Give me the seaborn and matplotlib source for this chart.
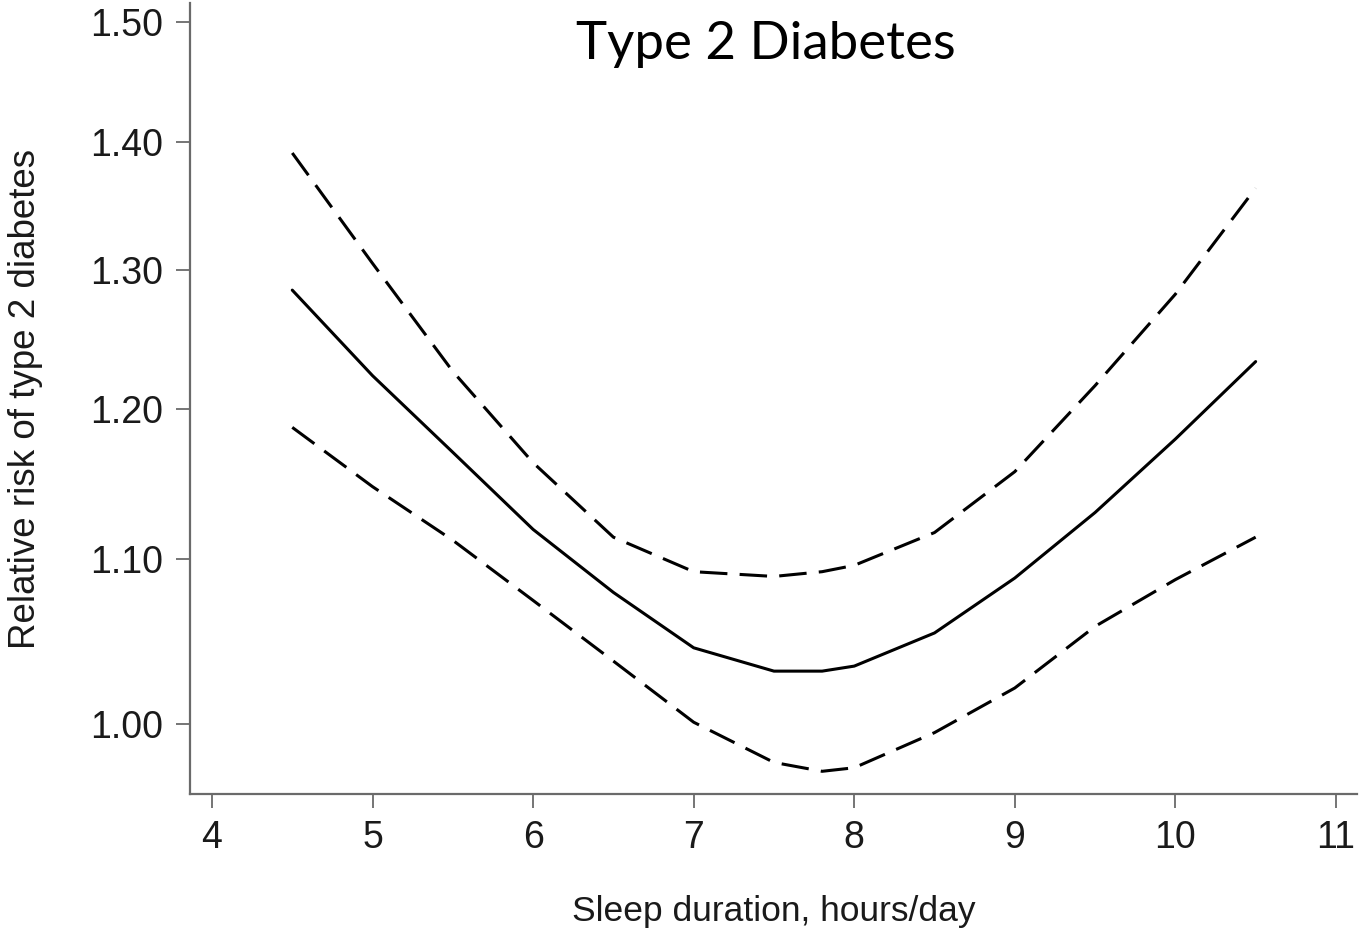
# plot.py
# Sleep duration vs relative risk of type 2 diabetes (dose-response curve with CI).

import numpy as np
import pandas as pd
import matplotlib
matplotlib.use("Agg")
import matplotlib.pyplot as plt
from matplotlib.ticker import FixedLocator, NullLocator
import seaborn as sns


# ── Data ───────────────────────────────────────────────────────────────────────

hours = [4.5, 5.0, 5.5, 6.0, 6.5, 7.0, 7.5, 7.8, 8.0, 8.5, 9.0, 9.5, 10.0, 10.5]

rr_estimate = [1.285, 1.223, 1.170, 1.119, 1.079, 1.045, 1.031, 1.031, 1.034,
               1.054, 1.088, 1.130, 1.179, 1.233]
rr_upper    = [1.391, 1.305, 1.226, 1.163, 1.114, 1.092, 1.089, 1.092, 1.096,
               1.117, 1.157, 1.216, 1.282, 1.363]
rr_lower    = [1.187, 1.147, 1.112, 1.074, 1.037, 1.001, 0.978, 0.973, 0.975,
               0.995, 1.021, 1.058, 1.087, 1.114]

y_ticks = [1.00, 1.10, 1.20, 1.30, 1.40, 1.50]
x_ticks = [4, 5, 6, 7, 8, 9, 10, 11]

title   = "Type 2 Diabetes"
x_label = "Sleep duration, hours/day"
y_label = "Relative risk of type 2 diabetes"


# ── Long-form frame for seaborn ────────────────────────────────────────────────

df = pd.concat([
    pd.DataFrame({"hours": hours, "rr": rr_estimate, "curve": "estimate"}),
    pd.DataFrame({"hours": hours, "rr": rr_upper,    "curve": "upper"}),
    pd.DataFrame({"hours": hours, "rr": rr_lower,    "curve": "lower"}),
], ignore_index=True)


# ── Plot ───────────────────────────────────────────────────────────────────────

sns.set_style("white")
plt.rcParams["font.family"] = ["Liberation Sans", "DejaVu Sans"]

fig = plt.figure(figsize=(13.59, 9.30), dpi=100)
ax = fig.add_axes([0.1398, 0.1462, 0.8587, 0.8506])

sns.lineplot(
    data=df, x="hours", y="rr", style="curve",
    dashes={"estimate": "", "upper": (9, 4), "lower": (9, 4)},
    color="black", linewidth=2.2, legend=False, ax=ax,
)

ax.set_yscale("log")
ax.set_xlim(3.863, 11.131)
ax.set_ylim(0.9603, 1.517)

ax.yaxis.set_major_locator(FixedLocator(y_ticks))
ax.yaxis.set_minor_locator(NullLocator())
ax.set_yticklabels([f"{t:.2f}" for t in y_ticks])
ax.set_xticks(x_ticks)

spine_c = "#6a6a6a"
for side in ["top", "right"]:
    ax.spines[side].set_visible(False)
for side in ["left", "bottom"]:
    ax.spines[side].set_color(spine_c)
    ax.spines[side].set_linewidth(1.6)

ax.tick_params(axis="both", direction="out", length=10, width=1.3,
               color=spine_c, labelsize=27, labelcolor="#1a1a1a",
               left=True, bottom=True)
ax.tick_params(axis="x", pad=9)
ax.tick_params(axis="y", pad=9)

ax.set_xlabel(x_label, fontsize=25.5, color="#1a1a1a", labelpad=28)
ax.set_ylabel(y_label, fontsize=26.5, color="#1a1a1a", labelpad=34)

fig.text(766 / 1359, 1 - 45 / 930, title, ha="center", va="center",
         fontsize=38, family=["Lato", "DejaVu Sans"], color="black")

plt.savefig("out.png", dpi=100)
plt.close()
